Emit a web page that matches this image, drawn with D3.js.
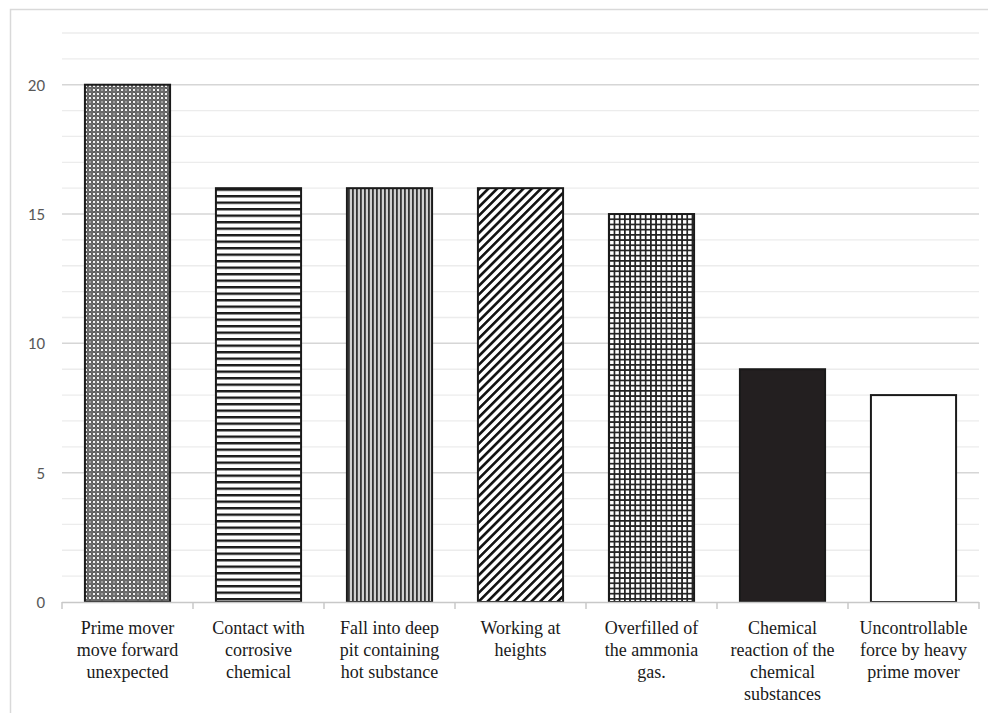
<!DOCTYPE html>
<html><head><meta charset="utf-8">
<script src="https://cdn.jsdelivr.net/npm/d3@7"></script>
<style>html,body{margin:0;padding:0;background:#fff;}svg{display:block;}</style>
</head><body>
<svg id="chart" width="988" height="713"></svg>
<script>
const categories = [
  ["Prime mover","move forward","unexpected"],
  ["Contact with","corrosive","chemical"],
  ["Fall into deep","pit containing","hot substance"],
  ["Working at","heights"],
  ["Overfilled of","the ammonia","gas."],
  ["Chemical","reaction of the","chemical","substances"],
  ["Uncontrollable","force by heavy","prime mover"]
];
const values = [20, 16, 16, 16, 15, 9, 8];
const fills = ["url(#pDots)","url(#pHoriz)","url(#pVert)","url(#pDiag)","url(#pGrid)","#231f20","#ffffff"];
const yTicks = [0, 5, 10, 15, 20];

const svg = d3.select("#chart");
const defs = svg.append("defs");

// patterns
let p = defs.append("pattern").attr("id","pDots").attr("patternUnits","userSpaceOnUse").attr("width",12).attr("height",12);
p.append("rect").attr("width",12).attr("height",12).attr("fill","#6a6a6a");
d3.range(3).forEach(r => d3.range(3).forEach(c => {
  p.append("rect").attr("x",c*4+1).attr("y",r*4+1).attr("width",2).attr("height",2)
    .attr("fill",(r===1&&c===1)?"#9a9a9a":"#f2f2f2");
}));
p.append("path").attr("d","M0,6 L6,0 L12,6 L6,12 Z").attr("fill","none").attr("stroke","#3a3a3a").attr("stroke-width",0.6).attr("opacity",0.6);

p = defs.append("pattern").attr("id","pHoriz").attr("patternUnits","userSpaceOnUse").attr("width",8).attr("height",6.5);
p.append("rect").attr("width",8).attr("height",6.5).attr("fill","#fff");
p.append("rect").attr("y",0).attr("width",8).attr("height",2.4).attr("fill","#1a1a1a");

p = defs.append("pattern").attr("id","pVert").attr("patternUnits","userSpaceOnUse").attr("width",4).attr("height",8);
p.append("rect").attr("width",4).attr("height",8).attr("fill","#d0d0d0");
p.append("rect").attr("x",0).attr("width",1.8).attr("height",8).attr("fill","#333");

p = defs.append("pattern").attr("id","pDiag").attr("patternUnits","userSpaceOnUse").attr("width",6.2).attr("height",6.2).attr("patternTransform","rotate(45)");
p.append("rect").attr("width",6.2).attr("height",6.2).attr("fill","#fff");
p.append("rect").attr("x",0).attr("width",2.6).attr("height",6.2).attr("fill","#111");

p = defs.append("pattern").attr("id","pGrid").attr("patternUnits","userSpaceOnUse").attr("width",5.2).attr("height",5.2);
p.append("rect").attr("width",5.2).attr("height",5.2).attr("fill","#fff");
p.append("rect").attr("width",1.7).attr("height",5.2).attr("fill","#222");
p.append("rect").attr("width",5.2).attr("height",1.7).attr("fill","#222");

// frame
svg.append("rect").attr("x",10.5).attr("y",9.5).attr("width",1200).attr("height",1200)
  .attr("fill","none").attr("stroke","#d9d9d9").attr("stroke-width",1.5);

const mLeft = 62, mRight = 979, mTop = 33, mBottom = 602;
const x = d3.scaleBand().domain(d3.range(categories.length)).range([mLeft,mRight]).paddingInner(0.35).paddingOuter(0.175);
const y = d3.scaleLinear().domain([0,22]).range([mBottom, mTop]);

// gridlines minor
svg.append("g").selectAll("line").data(d3.range(1,23).filter(v=>v%5!==0)).join("line")
  .attr("x1",mLeft).attr("x2",mRight).attr("y1",d=>y(d)).attr("y2",d=>y(d))
  .attr("stroke","#ececec").attr("stroke-width",1.3);
// gridlines major
svg.append("g").selectAll("line").data(yTicks.filter(v=>v>0)).join("line")
  .attr("x1",mLeft).attr("x2",mRight).attr("y1",d=>y(d)).attr("y2",d=>y(d))
  .attr("stroke","#d6d6d6").attr("stroke-width",1.5);

// y labels
const yAxis = svg.append("g").attr("transform",`translate(${mLeft},0)`)
  .call(d3.axisLeft(y).tickValues(yTicks).tickSize(0).tickPadding(17));
yAxis.select(".domain").remove();
yAxis.selectAll("text").attr("font-family","Carlito, 'Liberation Sans', Arial, sans-serif")
  .attr("font-size",17).attr("fill","#595959");

// bars
svg.append("g").selectAll("rect").data(values).join("rect")
  .attr("x",(d,i)=>x(i)).attr("width",x.bandwidth())
  .attr("y",d=>y(d)).attr("height",d=>mBottom-y(d))
  .attr("fill",(d,i)=>fills[i]).attr("stroke","#1a1a1a").attr("stroke-width",2);

// x axis baseline & ticks
const step = x.step();
const bx = svg.append("g");
bx.append("line").attr("x1",mLeft).attr("x2",mRight).attr("y1",mBottom+0.5).attr("y2",mBottom+0.5)
  .attr("stroke","#c8c8c8").attr("stroke-width",1.5);
bx.selectAll("line.tk").data(d3.range(categories.length+1)).join("line").attr("class","tk")
  .attr("x1",i=>mLeft+i*step).attr("x2",i=>mLeft+i*step).attr("y1",mBottom).attr("y2",mBottom+7)
  .attr("stroke","#c8c8c8").attr("stroke-width",1.5);

// x labels
const lab = svg.append("g").selectAll("text").data(categories).join("text")
  .attr("x",(d,i)=>x(i)+x.bandwidth()/2).attr("y",634)
  .attr("text-anchor","middle").attr("font-family","'Liberation Serif','Times New Roman',serif")
  .attr("font-size",18).attr("fill","#1a1a1a");
lab.selectAll("tspan").data(d=>d).join("tspan")
  .attr("x",function(){return this.parentNode.getAttribute("x");})
  .attr("dy",(d,i)=>i===0?0:22).text(d=>d);
</script>
</body></html>
